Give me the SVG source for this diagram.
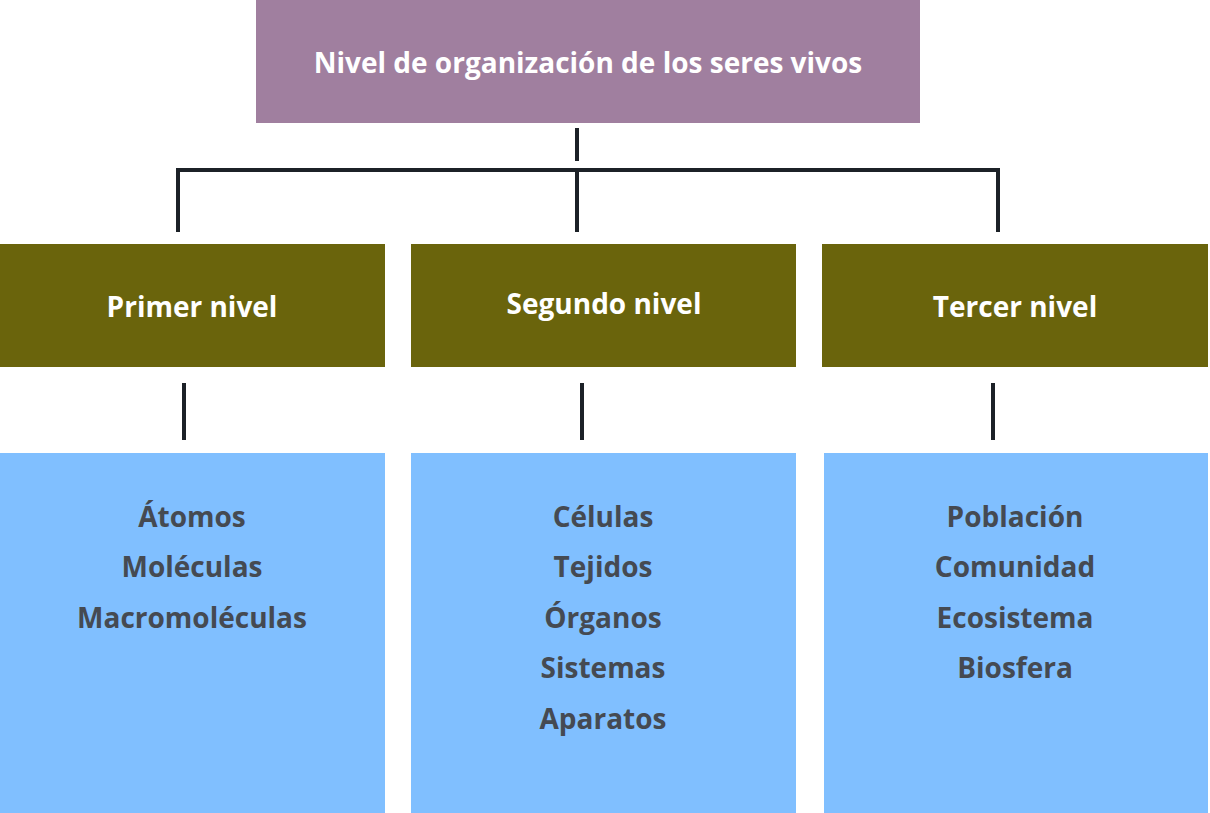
<svg xmlns="http://www.w3.org/2000/svg" width="1210" height="813" viewBox="0 0 1210 813">
<style>
text{font-family:"Open Sans","Noto Sans",sans-serif;font-weight:bold;font-size:28px;text-anchor:middle;dominant-baseline:central}
.w{fill:#fff}.d{fill:#454a52}
.lvl{fill:#6a640c}.box{fill:#80bfff}
#connectors line{stroke:#1c2127;stroke-width:4}
</style>
<rect width="1210" height="813" fill="#fff"/>
<g id="top"><rect x="256" y="0" width="664" height="123" fill="#a07f9f"/><text class="w" x="588" y="62">Nivel de organización de los seres vivos</text></g>
<g id="connectors">
<line x1="577" y1="128" x2="577" y2="161"/>
<line x1="176" y1="170" x2="1000" y2="170"/>
<line x1="178" y1="170" x2="178" y2="232"/>
<line x1="577" y1="170" x2="577" y2="232"/>
<line x1="998" y1="170" x2="998" y2="232"/>
<line x1="184" y1="383" x2="184" y2="440"/>
<line x1="582" y1="383" x2="582" y2="440"/>
<line x1="993" y1="383" x2="993" y2="440"/>
</g>
<g id="n1"><rect class="lvl" x="0" y="244" width="385" height="123"/><text class="w" x="192" y="306">Primer nivel</text></g>
<g id="n2"><rect class="lvl" x="411" y="244" width="385" height="123"/><text class="w" x="604" y="303">Segundo nivel</text></g>
<g id="n3"><rect class="lvl" x="822" y="244" width="386" height="123"/><text class="w" x="1015" y="306">Tercer nivel</text></g>
<g id="b1"><rect class="box" x="0" y="453" width="385" height="360"/>
<text class="d" x="192" y="516">Átomos</text><text class="d" x="192" y="566">Moléculas</text><text class="d" x="192" y="617">Macromoléculas</text></g>
<g id="b2"><rect class="box" x="411" y="453" width="385" height="360"/>
<text class="d" x="603" y="516">Células</text><text class="d" x="603" y="566">Tejidos</text><text class="d" x="603" y="617">Órganos</text><text class="d" x="603" y="667">Sistemas</text><text class="d" x="603" y="718">Aparatos</text></g>
<g id="b3"><rect class="box" x="824" y="453" width="384" height="360"/>
<text class="d" x="1015" y="516">Población</text><text class="d" x="1015" y="566">Comunidad</text><text class="d" x="1015" y="617">Ecosistema</text><text class="d" x="1015" y="667">Biosfera</text></g>
</svg>
